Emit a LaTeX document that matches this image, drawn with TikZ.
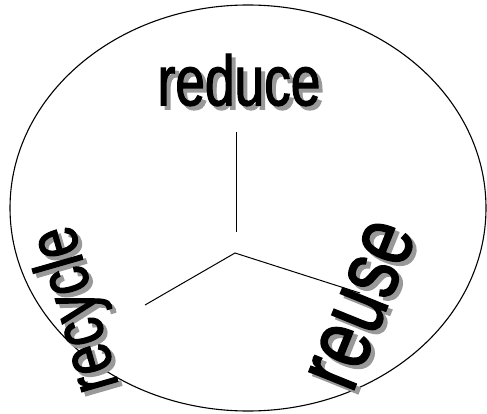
\documentclass[tikz,border=0pt]{standalone}
\usepackage{fontspec}
\newfontfamily\narrowsans{Liberation Sans}[FakeStretch=0.75,FakeBold=1.6]
\usetikzlibrary{calc}
\definecolor{ink}  {HTML}{000000}
\definecolor{shade}{HTML}{999999}
\tikzset{
  % --- nodes
  word/.style    = {inner sep=0pt, text=ink, font=\narrowsans\fontsize{#1}{#1}\selectfont},
  wshadow/.style = {word=#1, text=shade},
  % --- edges
  rim/.style     = {draw=ink, line width=1.1pt},
  spoke/.style   = {draw=ink, line width=1pt},
}
\begin{document}
\begin{tikzpicture}[x=1pt,y=1pt]
  \useasboundingbox (0,0) rectangle (487,413);
  % the ring
  \draw[rim] (248,205) ellipse [x radius=238, y radius=203];
  % three spokes
  \coordinate (hub)       at (235,160);
  \coordinate (stem top)  at (236,281);
  \coordinate (stem foot) at (236,181);
  \coordinate (left end)  at (145,108);
  \coordinate (right end) at (360,120);
  \draw[spoke] (stem top) -- (stem foot);
  \draw[spoke] (left end) -- (hub) -- (right end);
  % words, each with a grey drop shadow
  \foreach \nm/\px/\py/\ang/\sz in {reduce/239/333/0/71,
                                     recycle/78/104/106/71,
                                     reuse/362/108/68/92}
  {
    \node[wshadow=\sz, rotate=\ang] (\nm-sh) at (\px+4,\py-4) {\nm};
    \node[word=\sz, rotate=\ang]    (\nm)    at (\px,\py)     {\nm};
  }
\end{tikzpicture}
\end{document}
